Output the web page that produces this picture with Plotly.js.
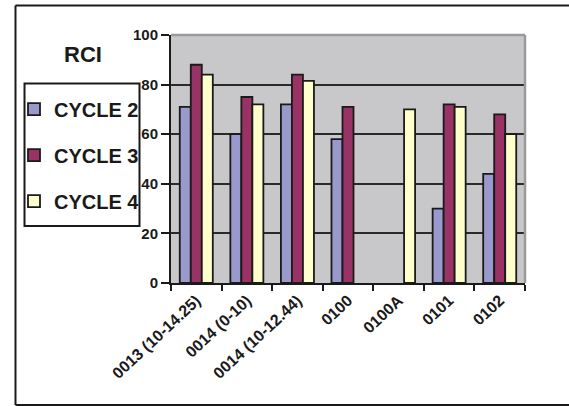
<!DOCTYPE html>
<html>
<head>
<meta charset="utf-8">
<script src="https://cdn.plot.ly/plotly-3.0.1.min.js"></script>
<style>html,body{margin:0;padding:0;background:#fff;}#chart{width:569px;height:406px;}</style>
</head>
<body>
<div id="chart"></div>
<script>
const categories = ['0013 (10-14.25)', '0014 (0-10)', '0014 (10-12.44)', '0100', '0100A', '0101', '0102'];
const cycle2 = [71, 60, 72, 58, null, 30, 44];
const cycle3 = [88, 75, 84, 71, null, 72, 68];
const cycle4 = [84, 72, 81.5, null, 70, 71, 60];
const seriesNames = ['CYCLE 2', 'CYCLE 3', 'CYCLE 4'];
const seriesColors = ['#9999CC', '#993366', '#FFFFCC'];
const yTicks = [0, 20, 40, 60, 80, 100];

const FONT = 'Liberation Sans, Arial, sans-serif';
const seriesValues = [cycle2, cycle3, cycle4];
const data = seriesValues.map((vals, i) => ({
  type: 'bar',
  name: seriesNames[i],
  x: categories,
  y: vals,
  legendgroup: 'g' + i,
  marker: {color: seriesColors[i], line: {color: '#1a1a1a', width: 1.8}},
  hoverinfo: 'x+y+name'
}));

const layout = {
  width: 569, height: 406,
  margin: {l: 171, r: 44, t: 35, b: 123},
  paper_bgcolor: '#ffffff',
  plot_bgcolor: '#C8C8CB',
  barmode: 'group',
  bargap: 0.347,
  bargroupgap: 0,
  font: {family: FONT, color: '#1a1a1a'},
  showlegend: true,
  legend: {
    x: -0.4435, xanchor: 'left',
    y: 0.78, yanchor: 'top',
    bgcolor: 'rgba(0,0,0,0)', borderwidth: 0,
    font: {family: FONT, size: 20, weight: 700, color: '#1a1a1a'},
    tracegroupgap: 17,
    traceorder: 'grouped'
  },
  xaxis: {
    type: 'category',
    tickson: 'boundaries',
    ticks: 'outside', ticklen: 6, tickwidth: 2, tickcolor: '#1a1a1a',
    showline: true, linecolor: '#1a1a1a', linewidth: 2,
    showgrid: false,
    tickangle: -43,
    tickfont: {family: FONT, size: 16, weight: 700, color: '#1a1a1a'},
    fixedrange: true
  },
  yaxis: {
    range: [0, 100],
    tickvals: yTicks,
    ticks: 'outside', ticklen: 8, tickwidth: 2, tickcolor: '#1a1a1a',
    showline: true, linecolor: '#1a1a1a', linewidth: 2,
    showgrid: true, gridcolor: '#2a2a2a', gridwidth: 2,
    zeroline: false,
    tickfont: {family: FONT, size: 15, weight: 700, color: '#1a1a1a'},
    fixedrange: true
  },
  shapes: [
    {type: 'line', xref: 'paper', yref: 'paper', x0: -0.4393, x1: -0.4393, y0: -0.492, y1: 1.119,
     line: {color: '#1a1a1a', width: 2}, layer: 'below'},
    {type: 'line', xref: 'paper', yref: 'paper', x0: -0.4393, x1: 1.2, y0: 1.119, y1: 1.119,
     line: {color: '#1a1a1a', width: 2}, layer: 'below'},
    {type: 'line', xref: 'paper', yref: 'paper', x0: -0.4393, x1: 1.2, y0: -0.492, y1: -0.492,
     line: {color: '#1a1a1a', width: 2}, layer: 'below'},
    {type: 'rect', xref: 'paper', yref: 'paper', x0: -0.4138, x1: -0.089, y0: 0.2298, y1: 0.8044,
     line: {color: '#1a1a1a', width: 2}, fillcolor: 'rgba(0,0,0,0)', layer: 'above'},
    {type: 'line', xref: 'paper', yref: 'paper', x0: 0, x1: 1, y0: 1, y1: 1,
     line: {color: '#9a9a9a', width: 2.5}, layer: 'above'},
    {type: 'line', xref: 'paper', yref: 'paper', x0: 1, x1: 1, y0: 0, y1: 1,
     line: {color: '#9a9a9a', width: 2.5}, layer: 'above'}
  ],
  annotations: [
    {text: 'RCI', xref: 'paper', yref: 'paper', x: -0.2486, y: 0.921,
     xanchor: 'center', yanchor: 'middle', showarrow: false,
     font: {family: FONT, size: 22, weight: 700, color: '#1a1a1a'}}
  ]
};

Plotly.newPlot('chart', data, layout, {displayModeBar: false, staticPlot: true});
</script>
</body>
</html>
